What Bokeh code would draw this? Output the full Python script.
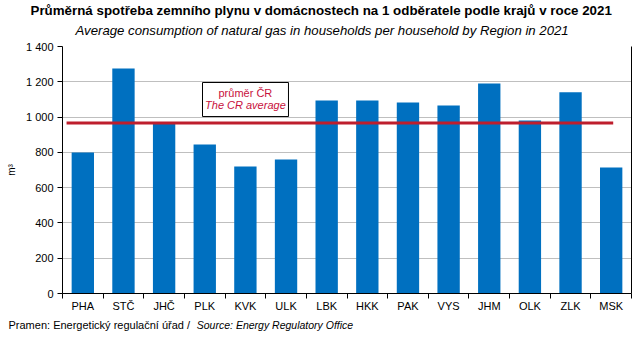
from bokeh.plotting import figure
from bokeh.models import (ColumnDataSource, FixedTicker, Range1d, LinearAxis, CustomJSTickFormatter, Title)
from bokeh.core.properties import value
from bokeh.embed import file_html
from bokeh.resources import INLINE

regions = ["PHA", "STČ", "JHČ", "PLK", "KVK", "ULK", "LBK", "HKK", "PAK", "VYS", "JHM", "OLK", "ZLK", "MSK"]
consumption = [799, 1275, 964, 845, 720, 760, 1094, 1094, 1083, 1066, 1190, 981, 1140, 714]
cr_average = 967
y_ticks = [0, 200, 400, 600, 800, 1000, 1200, 1400]

title_cz = "Průměrná spotřeba  zemního plynu v domácnostech  na 1 odběratele podle krajů v roce 2021"
title_en = "Average  consumption  of natural  gas in households  per household  by Region  in 2021"
source_cz = "Pramen: Energetický regulační úřad /"
source_en = "Source: Energy Regulatory Office"
legend_cz = "průměr ČR"
legend_en = "The CR average"

FONT = "Liberation Sans"

xs = [i + 0.5 for i in range(len(regions))]
src = ColumnDataSource(dict(x=xs, y=consumption, region=regions))

p = figure(width=643, height=343, output_backend="svg", toolbar_location=None,
           x_range=Range1d(0, len(regions)), y_range=Range1d(0, 1400),
           min_border_left=62, min_border_right=12, min_border_top=46, min_border_bottom=50)
p.outline_line_color = None
p.background_fill_color = "white"
p.border_fill_color = "white"
p.extra_x_ranges = {"px": Range1d(62, 631)}

p.vbar(x="x", top="y", width=0.55, source=src, fill_color="#0070C0", line_color=None)
p.segment(x0=[0.1], y0=[cr_average], x1=[13.55], y1=[cr_average], line_color="#BE1E2D", line_width=3)

p.xaxis.ticker = FixedTicker(ticks=xs, minor_ticks=list(range(len(regions) + 1)))
p.xaxis.major_label_overrides = {x: r for x, r in zip(xs, regions)}
p.xaxis.major_tick_out = 0
p.xaxis.major_tick_in = 0
p.xaxis.minor_tick_out = 5
p.xaxis.minor_tick_in = 0
p.xaxis.axis_line_color = "black"
p.xaxis.minor_tick_line_color = "black"
p.xaxis.major_label_text_font = FONT
p.xaxis.major_label_text_font_size = "11px"
p.xaxis.major_label_text_color = "black"
p.xaxis.major_label_standoff = 1

p.yaxis.ticker = FixedTicker(ticks=y_ticks)
p.yaxis.formatter = CustomJSTickFormatter(code="return tick >= 1000 ? Math.floor(tick/1000) + ' ' + String(tick % 1000).padStart(3,'0') : String(tick);")
p.yaxis.major_tick_out = 5
p.yaxis.major_tick_in = 0
p.yaxis.minor_tick_line_color = None
p.yaxis.axis_line_color = "black"
p.yaxis.major_tick_line_color = "black"
p.yaxis.major_label_text_font = FONT
p.yaxis.major_label_text_font_size = "11px"
p.yaxis.major_label_text_color = "black"
p.yaxis.major_label_standoff = 4
p.yaxis.axis_label = "m³"
p.yaxis.axis_label_text_font = FONT
p.yaxis.axis_label_text_font_size = "10px"
p.yaxis.axis_label_text_font_style = "normal"
p.yaxis.axis_label_text_color = "black"
p.yaxis.axis_label_standoff = 6

right = LinearAxis(ticker=FixedTicker(ticks=[]), major_label_text_font_size="0px",
                   axis_line_color="black", major_tick_line_color=None, minor_tick_line_color=None)
p.add_layout(right, "right")

p.xgrid.grid_line_color = None
p.ygrid.grid_line_color = "#BFBFBF"
p.ygrid.ticker = FixedTicker(ticks=y_ticks)

# legend box (annotation)
p.quad(left=[3.445], right=[5.56], top=[1196], bottom=[1003], fill_color="white",
       line_color="black", line_width=1)
p.text(x=[4.5], y=[1135], text=[legend_cz], text_align="center", text_baseline="middle",
       text_font=value(FONT), text_font_size="11px", text_color="#C8103C")
p.text(x=[4.5], y=[1071], text=[legend_en], text_align="center", text_baseline="middle",
       text_font=value(FONT), text_font_size="11px", text_font_style="italic", text_color="#C8103C")

# titles (above: first added is nearest to the frame)
p.title.visible = False
p.add_layout(Title(text=title_en, align="left", offset=13, standoff=17,
                   text_font=FONT, text_font_size="13.2px", text_font_style="italic",
                   text_color="black"), "above")
p.add_layout(Title(text=title_cz, align="left", offset=-32, standoff=-11,
                   text_font=FONT, text_font_size="13.35px", text_font_style="bold",
                   text_color="black"), "above")

# footer: Czech part as a title, English italic part as tick label of a bare axis on the same row
p.add_layout(Title(text=source_cz, align="left", offset=-54, standoff=4,
                   text_font=FONT, text_font_size="11px", text_font_style="normal",
                   text_color="black"), "below")
src_axis = LinearAxis(x_range_name="px", ticker=FixedTicker(ticks=[274.5]),
                      major_label_overrides={274.5: source_en},
                      axis_line_color=None, major_tick_line_color=None, minor_tick_line_color=None,
                      major_tick_out=0, major_tick_in=0, major_label_standoff=-14,
                      major_label_text_font=FONT, major_label_text_font_size="10.5px",
                      major_label_text_font_style="italic", major_label_text_color="black")
p.add_layout(src_axis, "below")

open("out.html", "w").write(file_html(p, INLINE))
